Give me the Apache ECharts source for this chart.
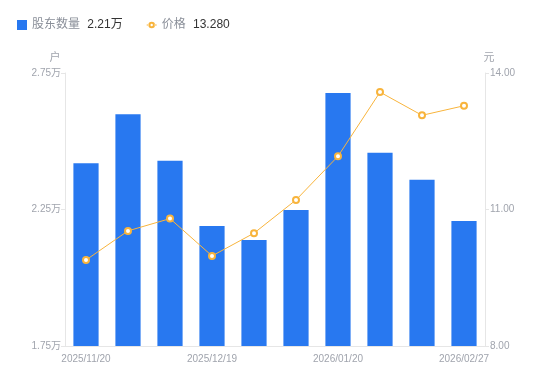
<!DOCTYPE html>
<html><head><meta charset="utf-8">
<script src="https://cdn.jsdelivr.net/npm/echarts@6/dist/echarts.min.js"></script>
<style>html,body{margin:0;padding:0;background:#fff}#c{width:550px;height:381px}</style>
</head><body><div id="c"></div>
<script>
var categories = ['2025/11/20','2025/11/28','2025/12/10','2025/12/19','2025/12/31','2026/01/09','2026/01/20','2026/01/30','2026/02/10','2026/02/27'];
var holders = [24190, 25990, 24290, 21900, 21380, 22480, 26770, 24580, 23590, 22080];
var prices = [9.89, 10.53, 10.80, 9.98, 10.48, 11.21, 12.17, 13.58, 13.07, 13.28];
var leftTicks = [17500, 22500, 27500];
var rightTicks = [8, 11, 14];

var chart = echarts.init(document.getElementById('c'), null, {renderer:'canvas'});
var FONT = '"Liberation Sans", Arial, "Noto Sans CJK SC", sans-serif';
var lastH = holders[holders.length-1], lastP = prices[prices.length-1];
var ringIcon = 'path://M0,4.4H2.2V5.6H0Z M7.8,4.4H10V5.6H7.8Z M8.3,5A3.3,3.3 0 1 0 1.7,5A3.3,3.3 0 1 0 8.3,5Z M6.2,5A1.2,1.2 0 1 1 3.8,5A1.2,1.2 0 1 1 6.2,5Z';
chart.setOption({
  animation:false,
  textStyle:{fontFamily:FONT},
  legend:{
    left:12, top:14, itemWidth:10, itemHeight:10, itemGap:24,
    textStyle:{fontSize:12, color:'#8a8f99', rich:{n:{fontSize:12,color:'#8a8f99',fontFamily:FONT},v:{fontSize:12,color:'#333',padding:[0,0,0,4],fontFamily:FONT}}},
    formatter:function(name){
      if(name==='股东数量') return '{n|'+name+'} {v|'+(lastH/10000).toFixed(2)+'万}';
      return '{n|'+name+'} {v|'+lastP.toFixed(3)+'}';
    },
    data:[{name:'股东数量',icon:'rect'},{name:'价格',icon:ringIcon,itemStyle:{color:'#f8b43c',borderWidth:0}}]
  },
  grid:{left:65,right:65,top:73,bottom:35},
  xAxis:{
    type:'category', data:categories,
    axisLine:{lineStyle:{color:'#e6e6e6'}},
    axisTick:{show:false},
    axisLabel:{interval:2, color:'#a0a4ad', fontSize:10, margin:8}
  },
  yAxis:[{
    type:'value', name:'户', min:leftTicks[0], max:leftTicks[2], interval:leftTicks[1]-leftTicks[0],
    nameTextStyle:{color:'#a0a4ad',fontSize:11,padding:[0,20,0,0]}, nameGap:10,
    axisLine:{show:true,lineStyle:{color:'#e6e6e6'}},
    axisTick:{show:true,length:4,lineStyle:{color:'#e6e6e6'}},
    splitLine:{show:false},
    axisLabel:{color:'#a0a4ad',fontSize:10,margin:4,formatter:function(v){return (v/10000).toFixed(2)+'万';}}
  },{
    type:'value', name:'元', min:rightTicks[0], max:rightTicks[2], interval:rightTicks[1]-rightTicks[0],
    nameTextStyle:{color:'#a0a4ad',fontSize:11,padding:[0,0,0,8]}, nameGap:10,
    axisLine:{show:true,lineStyle:{color:'#e6e6e6'}},
    axisTick:{show:true,length:4,lineStyle:{color:'#e6e6e6'}},
    splitLine:{show:false},
    axisLabel:{color:'#a0a4ad',fontSize:10,margin:5,formatter:function(v){return v.toFixed(2);}}
  }],
  series:[{
    name:'股东数量', type:'bar', data:holders, barWidth:'60%', yAxisIndex:0,
    itemStyle:{color:'#2878f0'}
  },{
    name:'价格', type:'line', data:prices, yAxisIndex:1,
    symbol:'emptyCircle', symbolSize:6,
    lineStyle:{color:'#f8b43c',width:1},
    itemStyle:{color:'#f8b43c',borderWidth:2}
  }]
});
</script></body></html>
